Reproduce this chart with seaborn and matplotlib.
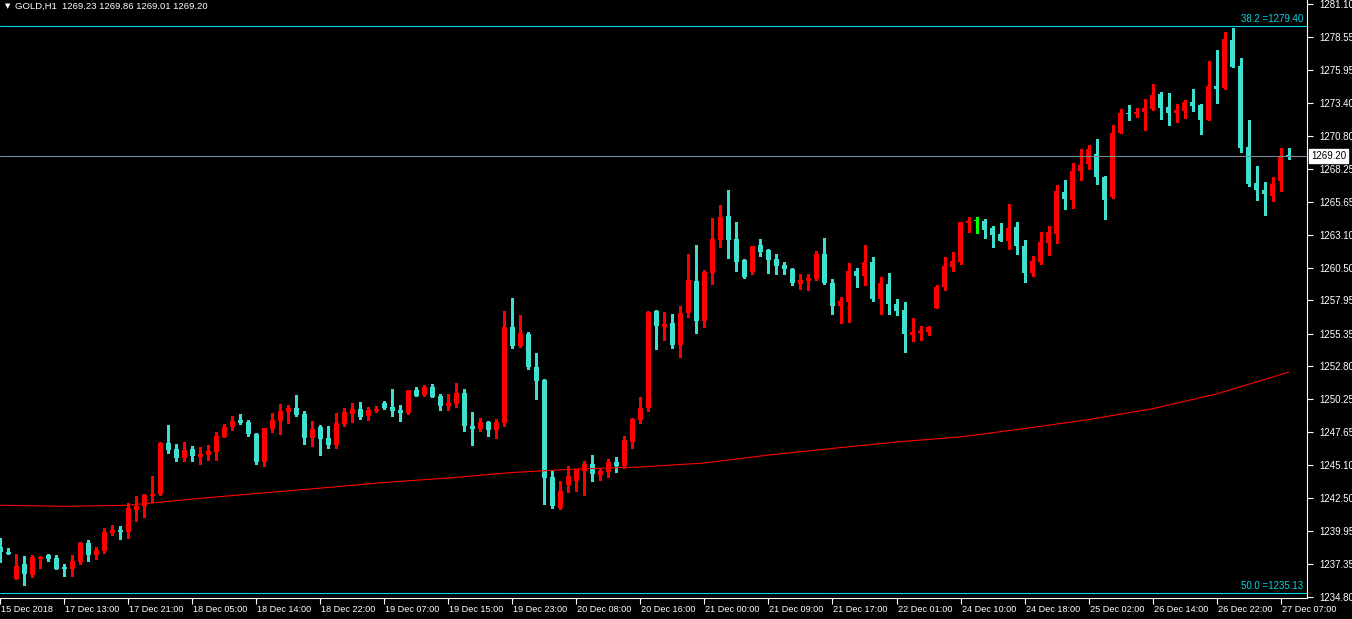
import numpy as np
import pandas as pd
import matplotlib
matplotlib.use("Agg")
import matplotlib.pyplot as plt
import matplotlib.transforms as mtransforms
import seaborn as sns

# === hourly GOLD candles (one per bar, oldest first) ===
opens = [1238.70, 1238.31, 1236.20, 1237.38, 1236.51, 1237.77, 1238.08, 1237.84, 1237.16, 1236.98,
         1237.56, 1239.01, 1238.08, 1238.39, 1239.79, 1240.03, 1239.90, 1241.61, 1241.92, 1242.68,
         1242.84, 1246.84, 1246.35, 1245.65, 1246.35, 1245.73, 1245.88, 1246.12, 1247.29, 1248.07,
         1248.62, 1248.47, 1247.52, 1245.33, 1247.91, 1248.54, 1249.24, 1249.55, 1249.09, 1247.21,
         1248.07, 1247.21, 1246.67, 1248.31, 1249.09, 1249.48, 1248.93, 1249.32, 1249.94, 1249.63,
         1249.40, 1249.16, 1250.96, 1250.57, 1251.19, 1250.49, 1249.71, 1249.87, 1250.73, 1248.15,
         1247.91, 1248.46, 1247.84, 1248.39, 1255.88, 1254.40, 1255.33, 1252.75, 1251.74, 1244.17,
         1241.75, 1243.54, 1243.85, 1244.63, 1245.18, 1244.32, 1244.55, 1245.34, 1245.02, 1246.90,
         1248.62, 1249.55, 1257.13, 1255.88, 1256.19, 1254.47, 1256.97, 1259.47, 1256.35, 1260.10,
         1262.67, 1264.55, 1262.75, 1261.11, 1260.17, 1262.28, 1261.89, 1261.19, 1260.72, 1260.41,
         1259.24, 1259.47, 1259.63, 1261.58, 1259.32, 1257.52, 1257.83, 1260.25, 1259.86, 1260.95,
         1258.07, 1259.24, 1257.68, 1257.21, 1255.25, 1255.41, 1255.49, 1257.36, 1259.00, 1260.56,
         1260.95, 1264.00, 1264.16, 1264.16, 1263.61, 1263.14, 1262.59, 1263.69, 1262.20, 1260.10,
         1260.95, 1262.44, 1263.14, 1266.42, 1265.80, 1268.06, 1268.61, 1269.39, 1267.59, 1266.03,
         1271.03, 1272.59, 1272.51, 1272.67, 1272.90, 1274.07, 1273.06, 1272.59, 1272.74, 1273.45,
         1273.21, 1272.04, 1274.70, 1274.54, 1278.29, 1276.26, 1269.93, 1267.12, 1266.58, 1266.11,
         1267.28, 1269.23]
highs = [1239.43, 1238.60, 1238.16, 1238.00, 1238.08, 1238.02, 1238.16, 1238.08, 1237.38, 1238.08,
         1239.09, 1239.25, 1238.70, 1240.18, 1240.42, 1240.34, 1242.14, 1242.68, 1242.84, 1244.25,
         1246.90, 1248.23, 1246.74, 1246.90, 1246.59, 1246.51, 1246.67, 1247.68, 1248.31, 1248.93,
         1249.09, 1248.62, 1247.60, 1247.99, 1249.16, 1249.87, 1249.79, 1250.57, 1249.32, 1248.54,
         1248.23, 1248.15, 1249.16, 1249.55, 1249.94, 1250.02, 1249.63, 1249.71, 1250.10, 1251.04,
         1249.79, 1250.96, 1251.19, 1251.35, 1251.43, 1250.65, 1250.65, 1251.50, 1251.04, 1249.24,
         1248.77, 1248.54, 1248.70, 1257.13, 1258.14, 1256.82, 1255.49, 1253.85, 1251.80, 1244.71,
         1243.85, 1245.02, 1244.79, 1245.41, 1245.88, 1244.87, 1245.57, 1245.73, 1247.37, 1248.77,
         1250.41, 1257.10, 1257.21, 1257.05, 1256.89, 1257.52, 1261.58, 1262.28, 1260.33, 1264.39,
         1265.40, 1266.58, 1264.08, 1261.19, 1262.20, 1262.75, 1261.95, 1261.58, 1260.95, 1260.49,
         1260.02, 1260.02, 1261.81, 1262.83, 1259.63, 1258.22, 1260.88, 1260.49, 1262.28, 1261.34,
         1259.78, 1260.10, 1258.07, 1257.83, 1256.58, 1255.96, 1255.96, 1259.16, 1261.34, 1261.73,
         1264.10, 1264.47, 1264.47, 1264.31, 1263.77, 1264.00, 1265.48, 1264.08, 1262.67, 1261.42,
         1263.30, 1263.77, 1266.97, 1267.36, 1268.68, 1269.78, 1270.09, 1270.56, 1267.65, 1271.65,
         1272.90, 1273.21, 1272.98, 1273.68, 1274.85, 1274.23, 1274.15, 1273.29, 1273.60, 1274.46,
         1273.29, 1276.65, 1277.51, 1278.91, 1279.23, 1276.88, 1272.04, 1268.45, 1267.20, 1267.59,
         1269.86, 1269.86]
lows = [1237.56, 1238.16, 1236.20, 1235.75, 1236.38, 1237.08, 1237.64, 1236.98, 1236.43, 1236.43,
        1237.40, 1237.61, 1237.77, 1238.23, 1239.64, 1239.33, 1239.43, 1240.73, 1241.04, 1242.24,
        1242.79, 1246.06, 1245.41, 1245.41, 1245.41, 1245.18, 1245.49, 1245.49, 1247.29, 1247.84,
        1248.31, 1247.37, 1245.18, 1245.02, 1247.68, 1247.52, 1248.39, 1248.93, 1246.74, 1246.59,
        1245.88, 1246.43, 1246.43, 1248.15, 1248.46, 1248.70, 1248.62, 1249.24, 1249.48, 1248.93,
        1248.54, 1249.09, 1250.49, 1250.49, 1250.41, 1249.40, 1249.40, 1249.63, 1247.76, 1246.67,
        1247.76, 1247.37, 1247.21, 1248.15, 1254.24, 1254.32, 1252.60, 1250.26, 1242.06, 1241.75,
        1241.67, 1242.99, 1243.07, 1242.76, 1243.85, 1243.93, 1244.17, 1244.55, 1244.87, 1246.43,
        1248.39, 1249.32, 1254.16, 1254.86, 1254.24, 1253.54, 1256.66, 1255.41, 1255.88, 1259.24,
        1262.13, 1261.27, 1260.25, 1259.71, 1260.02, 1261.42, 1260.10, 1260.02, 1260.02, 1259.16,
        1258.84, 1258.77, 1259.55, 1259.24, 1256.89, 1256.19, 1256.27, 1259.00, 1259.16, 1257.91,
        1256.89, 1256.89, 1256.82, 1253.93, 1254.79, 1254.86, 1255.25, 1257.36, 1258.77, 1260.25,
        1260.80, 1263.30, 1263.22, 1262.83, 1262.13, 1262.59, 1261.97, 1261.58, 1259.39, 1259.86,
        1260.80, 1261.50, 1262.44, 1265.09, 1265.17, 1267.36, 1268.21, 1267.04, 1264.31, 1265.95,
        1271.03, 1272.04, 1272.28, 1271.26, 1272.82, 1272.12, 1271.65, 1271.89, 1272.20, 1272.74,
        1270.95, 1272.04, 1273.37, 1274.46, 1276.18, 1269.54, 1266.89, 1265.80, 1264.62, 1265.72,
        1266.50, 1269.01]
closes = [1238.34, 1238.18, 1237.24, 1236.61, 1237.95, 1237.95, 1237.77, 1236.98, 1236.98, 1237.61,
          1239.01, 1238.08, 1238.47, 1239.87, 1240.03, 1239.87, 1241.75, 1241.92, 1242.76, 1242.84,
          1246.84, 1246.27, 1245.65, 1246.27, 1245.81, 1245.96, 1246.19, 1247.37, 1248.07, 1248.54,
          1248.39, 1247.52, 1245.33, 1247.99, 1248.62, 1249.32, 1249.55, 1249.01, 1247.21, 1247.91,
          1247.13, 1246.67, 1248.39, 1249.24, 1249.48, 1248.85, 1249.40, 1249.48, 1249.55, 1249.32,
          1249.16, 1250.96, 1250.49, 1251.19, 1250.41, 1249.71, 1249.94, 1250.73, 1248.15, 1247.91,
          1248.46, 1247.84, 1248.46, 1255.88, 1254.40, 1255.41, 1252.75, 1251.66, 1244.09, 1241.90,
          1243.07, 1244.25, 1244.79, 1245.18, 1244.40, 1244.63, 1245.34, 1245.02, 1247.06, 1248.70,
          1249.55, 1257.05, 1255.96, 1256.11, 1254.47, 1256.97, 1259.55, 1256.35, 1260.17, 1262.75,
          1264.47, 1262.67, 1260.95, 1259.78, 1262.20, 1261.73, 1261.11, 1260.64, 1260.41, 1259.32,
          1259.55, 1259.71, 1261.58, 1259.32, 1257.52, 1257.91, 1260.25, 1259.86, 1260.95, 1258.07,
          1259.32, 1257.68, 1257.13, 1255.33, 1255.49, 1255.57, 1255.88, 1259.00, 1260.64, 1261.03,
          1264.08, 1264.16, 1264.16, 1263.45, 1263.06, 1262.59, 1263.61, 1262.20, 1260.10, 1261.03,
          1262.52, 1263.30, 1266.50, 1265.87, 1268.06, 1268.53, 1269.78, 1267.59, 1265.80, 1271.03,
          1272.59, 1272.51, 1272.67, 1272.98, 1273.99, 1272.98, 1272.59, 1272.82, 1273.45, 1273.14,
          1272.04, 1274.70, 1274.46, 1278.37, 1276.18, 1269.86, 1267.04, 1266.58, 1266.26, 1267.04,
          1269.23, 1269.20]

# moving average, sampled at bar numbers
ma_bars = [0, 8, 16, 24, 32, 40, 48, 56, 64, 72, 80, 88, 96, 104, 112, 120, 128, 136, 144, 152, 161]
ma_vals = [1241.96, 1241.88, 1241.96, 1242.45, 1242.88, 1243.30, 1243.74, 1244.09, 1244.52, 1244.79,
           1244.95, 1245.26, 1245.88, 1246.40, 1246.90, 1247.30, 1247.95, 1248.65, 1249.50, 1250.65,
           1252.35]

time_labels = ["15 Dec 2018", "17 Dec 13:00", "17 Dec 21:00", "18 Dec 05:00", "18 Dec 14:00",
               "18 Dec 22:00", "19 Dec 07:00", "19 Dec 15:00", "19 Dec 23:00", "20 Dec 08:00",
               "20 Dec 16:00", "21 Dec 00:00", "21 Dec 09:00", "21 Dec 17:00", "22 Dec 01:00",
               "24 Dec 10:00", "24 Dec 18:00", "25 Dec 02:00", "26 Dec 14:00", "26 Dec 22:00",
               "27 Dec 07:00"]
price_ticks = [1281.10, 1278.55, 1275.95, 1273.40, 1270.80, 1268.25, 1265.65, 1263.10, 1260.50,
               1257.95, 1255.35, 1252.80, 1250.25, 1247.65, 1245.10, 1242.50, 1239.95, 1237.35, 1234.80]

fib_levels = [1279.40, 1235.13]
fib_texts = ["38.2 =1279.40", "50.0 =1235.13"]
bid_price = 1269.20
header = "GOLD,H1  1269.23 1269.86 1269.01 1269.20"

# === style ===
sns.set_style("dark", {"axes.facecolor": "black", "figure.facecolor": "black"})
plt.rcParams["font.family"] = ["Liberation Sans", "DejaVu Sans"]

BULL = "#ff0000"
BEAR = "#40e0d0"
DOJI = "#00ff00"
FIB = "#00d8e8"

df = pd.DataFrame({"open": opens, "high": highs, "low": lows, "close": closes})
df["bar"] = np.arange(len(df))
df["color"] = np.where(df["close"] > df["open"], BULL,
                       np.where(df["close"] < df["open"], BEAR, DOJI))
df["bottom"] = df[["open", "close"]].min(axis=1)
df["height"] = (df["close"] - df["open"]).abs().clip(lower=0.08)

W, H = 1352, 619
fig = plt.figure(figsize=(W / 100, H / 100), dpi=100)
ax = fig.add_axes([0, 21 / H, 1307 / W, 598 / H])

# wicks and bodies
ax.vlines(df["bar"], df["low"], df["high"], colors=df["color"], linewidth=0.75, antialiased=False)
ax.bar(df["bar"], df["height"], bottom=df["bottom"], width=0.625, color=df["color"],
       linewidth=0, antialiased=False)

# moving average
sns.lineplot(x=ma_bars, y=ma_vals, color="#ff0000", linewidth=0.8, ax=ax)

# fibo levels
blend = mtransforms.blended_transform_factory(ax.transAxes, ax.transData)
for lvl, txt in zip(fib_levels, fib_texts):
    ax.axhline(lvl, color=FIB, linewidth=0.8)
    ax.text(0.997, lvl + 0.15, txt, transform=blend,
            ha="right", va="bottom", color=FIB, fontsize=7)

# bid line
ax.axhline(bid_price, color="#778899", linewidth=0.8)
ax.text(1.003, bid_price, f"{bid_price:.2f}", transform=blend,
        ha="left", va="center", color="black", fontsize=7, zorder=10,
        bbox=dict(boxstyle="square,pad=0.2", facecolor="white", edgecolor="white"))

ax.set_xlim(-0.04, 163.3)
ax.set_ylim(1234.72, 1281.41)

# axes look
for side in ["left", "top"]:
    ax.spines[side].set_visible(False)
for side in ["right", "bottom"]:
    ax.spines[side].set_color("white")
    ax.spines[side].set_linewidth(0.8)

ax.yaxis.tick_right()
ax.set_yticks(price_ticks)
ax.set_yticklabels([f"{p:.2f}" for p in price_ticks])
ax.tick_params(axis="y", colors="white", labelcolor="white", labelsize=7, length=4, width=0.8,
               direction="out", pad=5, right=True, left=False)

ax.set_xticks(np.arange(0, 8 * len(time_labels), 8))
ax.set_xticklabels(time_labels, ha="left")
ax.tick_params(axis="x", colors="white", labelcolor="white", labelsize=6.6, length=4, width=0.8,
               direction="out", pad=1, bottom=True)
offset = mtransforms.ScaledTranslation(1 / 100, 0, fig.dpi_scale_trans)
for lab in ax.get_xticklabels():
    lab.set_transform(lab.get_transform() + offset)

ax.set_xlabel("")
ax.set_ylabel("")
ax.grid(False)

# header
fig.text(5 / W, 1 - 6 / H, "\u25bc", color="white", fontsize=5, va="center", ha="left",
         family="DejaVu Sans")
fig.text(15 / W, 1 - 6 / H, header, color="white", fontsize=6.8, va="center", ha="left")

fig.savefig("out.png", dpi=100, facecolor="black")
